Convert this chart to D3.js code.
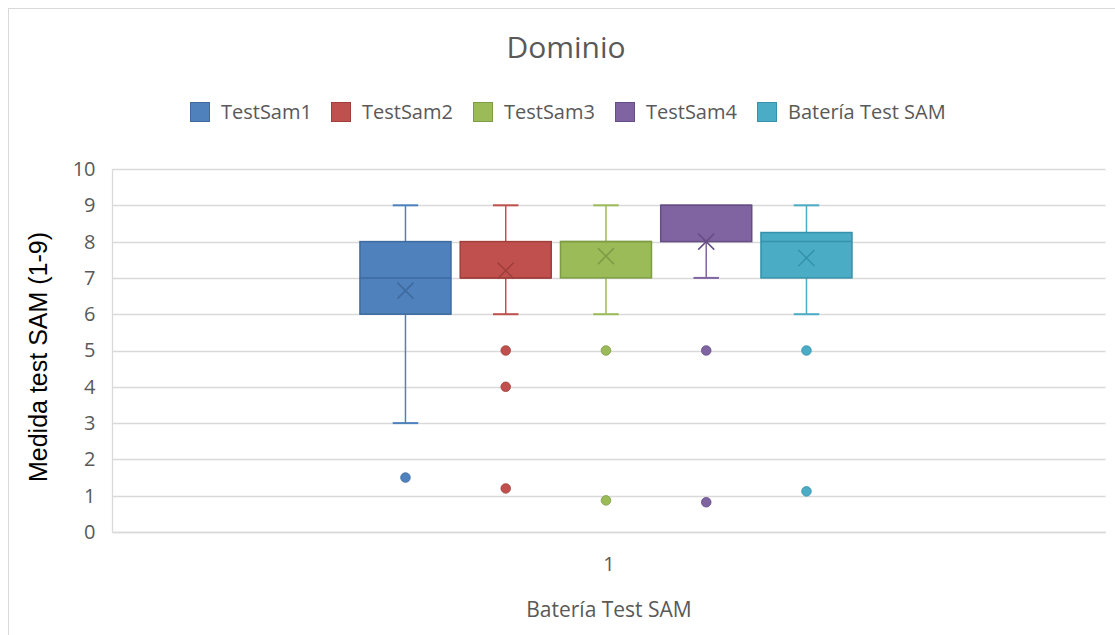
<!DOCTYPE html>
<html>
<head>
<meta charset="utf-8">
<script src="https://cdn.jsdelivr.net/npm/d3@7"></script>
<style>
  html, body { margin: 0; padding: 0; background: #fff; }
  svg { display: block; }
</style>
</head>
<body>
<svg id="chart" width="1115" height="635"></svg>
<script>
// Box-plot summary for each test in the "Dominio" dimension
const series   = ["TestSam1", "TestSam2", "TestSam3", "TestSam4", "Batería Test SAM"];
const colors   = ["#4F81BD", "#C0504D", "#9BBB59", "#8064A2", "#4BACC6"];
const strokes  = ["#3E6A9E", "#A03F3C", "#7E9C45", "#664E85", "#3592AA"];
const whiskLo  = [3, 6, 6, 7, 6];
const q1       = [6, 7, 7, 8, 7];
const median   = [7, 7, 8, 9, 8];
const q3       = [8, 8, 8, 9, 8.25];
const whiskHi  = [9, 9, 9, 9, 9];
const means    = [6.65, 7.2, 7.6, 8.0, 7.55];
const outliers = [[1.5], [5, 4, 1.2], [5, 0.87], [5, 0.82], [5, 1.12]];
const yTicks   = [0, 1, 2, 3, 4, 5, 6, 7, 8, 9, 10];
const category = ["1"];

const svg = d3.select("#chart");
const font = "'Open Sans', 'Noto Sans', sans-serif";
const grey = "#595959";

// chart frame
svg.append("rect").attr("x", 8.5).attr("y", 8.5).attr("width", 1130).attr("height", 650)
  .attr("fill", "#fff").attr("stroke", "#d9d9d9").attr("stroke-width", 1);

const plot = { left: 112.5, right: 1105.5, top: 169, bottom: 532 };

const y = d3.scaleLinear().domain([0, 10]).range([plot.bottom, plot.top]);
const xCat = d3.scaleBand().domain(category).range([plot.left, plot.right]);
const xSeries = d3.scaleBand().domain(series)
  .range([xCat("1") + xCat.bandwidth() * 0.2492, xCat("1") + xCat.bandwidth() * 0.7447])
  .paddingInner(0.092);

// gridlines
const grid = svg.append("g");
grid.selectAll("line").data(yTicks).join("line")
  .attr("x1", plot.left).attr("x2", plot.right)
  .attr("y1", d => Math.round(y(d)) + 0.5).attr("y2", d => Math.round(y(d)) + 0.5)
  .attr("stroke", "#d9d9d9").attr("stroke-width", 1.3);

// left axis line
svg.append("line").attr("x1", plot.left).attr("x2", plot.left)
  .attr("y1", plot.top).attr("y2", plot.bottom + 0.5)
  .attr("stroke", "#d9d9d9").attr("stroke-width", 1.3);

// y axis labels
const yAxis = d3.axisLeft(y).tickValues(yTicks).tickSize(0).tickPadding(17);
const yg = svg.append("g").attr("transform", `translate(${plot.left},0)`).call(yAxis);
yg.select(".domain").remove();
yg.selectAll("text").attr("font-family", font).attr("font-size", 20).attr("fill", grey);

// x axis label
const xAxis = d3.axisBottom(xCat).tickSize(0).tickPadding(25);
const xg = svg.append("g").attr("transform", `translate(0,${plot.bottom})`).call(xAxis);
xg.select(".domain").attr("stroke", "#d9d9d9").attr("stroke-width", 1.3);
xg.selectAll("text").attr("font-family", font).attr("font-size", 20).attr("fill", grey);

// boxes
const boxes = svg.append("g").selectAll("g").data(series).join("g");
const bw = xSeries.bandwidth();
boxes.each(function(name, i) {
  const g = d3.select(this);
  const x0 = xSeries(name);
  const cx = x0 + bw / 2;
  const col = colors[i], st = strokes[i];
  const cap = bw * 0.28;
  // whiskers
  if (whiskHi[i] > q3[i]) {
    g.append("line").attr("x1", cx).attr("x2", cx).attr("y1", y(q3[i])).attr("y2", y(whiskHi[i]))
      .attr("stroke", col).attr("stroke-width", 1.5);
    g.append("line").attr("x1", cx - cap / 2).attr("x2", cx + cap / 2).attr("y1", y(whiskHi[i])).attr("y2", y(whiskHi[i]))
      .attr("stroke", col).attr("stroke-width", 2);
  }
  if (whiskLo[i] < q1[i]) {
    g.append("line").attr("x1", cx).attr("x2", cx).attr("y1", y(q1[i])).attr("y2", y(whiskLo[i]))
      .attr("stroke", col).attr("stroke-width", 1.5);
    g.append("line").attr("x1", cx - cap / 2).attr("x2", cx + cap / 2).attr("y1", y(whiskLo[i])).attr("y2", y(whiskLo[i]))
      .attr("stroke", col).attr("stroke-width", 2);
  }
  // box
  g.append("rect").attr("x", x0).attr("y", y(q3[i])).attr("width", bw).attr("height", y(q1[i]) - y(q3[i]))
    .attr("fill", col).attr("stroke", st).attr("stroke-width", 1.5);
  // median
  g.append("line").attr("x1", x0).attr("x2", x0 + bw).attr("y1", y(median[i])).attr("y2", y(median[i]))
    .attr("stroke", st).attr("stroke-width", 1.5);
  // mean marker
  const m = 8, my = y(means[i]);
  g.append("path").attr("d", `M${cx - m},${my - m}L${cx + m},${my + m}M${cx - m},${my + m}L${cx + m},${my - m}`)
    .attr("stroke", st).attr("stroke-width", 1.5).attr("fill", "none");
  // outliers
  g.selectAll("circle").data(outliers[i]).join("circle")
    .attr("cx", cx).attr("cy", d => y(d)).attr("r", 4.8)
    .attr("fill", col).attr("stroke", st).attr("stroke-width", 0.8);
});

// title
svg.append("text").attr("x", 566).attr("y", 58).attr("text-anchor", "middle")
  .attr("font-family", font).attr("font-size", 30).attr("fill", grey).text("Dominio");

// legend
const legendX = [190, 331, 473, 615, 757];
const lg = svg.append("g").selectAll("g").data(series).join("g")
  .attr("transform", (d, i) => `translate(${legendX[i]},102)`);
lg.append("rect").attr("x", 0.5).attr("y", 0.5).attr("width", 19).attr("height", 19)
  .attr("fill", (d, i) => colors[i]).attr("stroke", (d, i) => strokes[i]).attr("stroke-width", 1);
lg.append("text").attr("x", 31).attr("y", 17).attr("font-family", font).attr("font-size", 20)
  .attr("fill", grey).text(d => d);

// axis titles
svg.append("text").attr("transform", "translate(47,357) rotate(-90)").attr("text-anchor", "middle")
  .attr("font-family", "'Liberation Sans', Arial, sans-serif").attr("font-size", 25).attr("fill", "#000")
  .text("Medida test SAM (1-9)");
svg.append("text").attr("x", 609).attr("y", 617).attr("text-anchor", "middle")
  .attr("font-family", font).attr("font-size", 21).attr("fill", grey).text("Batería Test SAM");
</script>
</body>
</html>
